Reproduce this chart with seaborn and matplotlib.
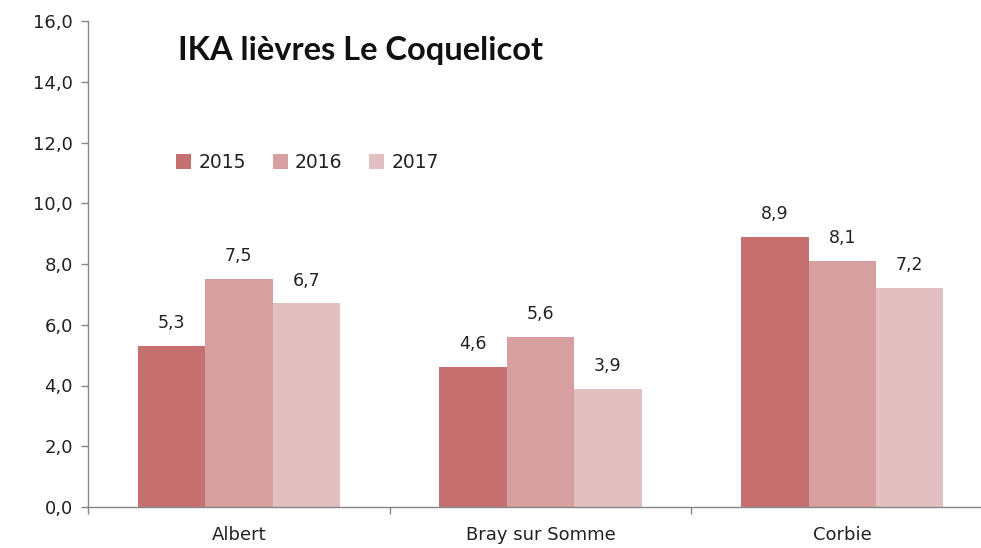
import seaborn as sns
import matplotlib.pyplot as plt
import pandas as pd
from matplotlib.ticker import FixedLocator, FuncFormatter

# data
communes = ["Albert", "Bray sur Somme", "Corbie"]
years = ["2015", "2016", "2017"]
ika_2015 = [5.3, 4.6, 8.9]
ika_2016 = [7.5, 5.6, 8.1]
ika_2017 = [6.7, 3.9, 7.2]

colors = ["#C6706F", "#D79F9F", "#E2C0C2"]

rows = []
for yr, vals in zip(years, [ika_2015, ika_2016, ika_2017]):
    for c, v in zip(communes, vals):
        rows.append({"commune": c, "annee": yr, "ika": v})
df = pd.DataFrame(rows)

sns.set_style("white")
plt.rcParams["font.family"] = ["DejaVu Sans"]

fig = plt.figure(figsize=(9.81, 5.48), dpi=100)
ax = fig.add_axes([88 / 981, 41 / 548, (981 - 88) / 981, 486 / 548])

sns.barplot(data=df, x="commune", y="ika", hue="annee", palette=colors,
            width=0.67, gap=0, saturation=1, linewidth=0, ax=ax, legend=True)

# value labels
for cont in ax.containers:
    ax.bar_label(cont, labels=[f"{v:.1f}".replace(".", ",") for v in cont.datavalues],
                 padding=10, fontsize=12.5, color="#222222")

ax.set_ylim(0, 16)
ax.set_xlim(-0.5, 2.46)
ax.set_yticks([0, 2, 4, 6, 8, 10, 12, 14, 16])
ax.yaxis.set_major_formatter(FuncFormatter(lambda v, p: f"{v:.1f}".replace(".", ",")))
ax.tick_params(axis="y", labelsize=13, length=5, width=1, color="#868686",
               direction="out", left=True, pad=6, labelcolor="#222222")
ax.tick_params(axis="x", which="major", length=0, labelsize=13, pad=14,
               labelcolor="#222222")
ax.xaxis.set_minor_locator(FixedLocator([-0.5, 0.5, 1.5]))
ax.tick_params(axis="x", which="minor", length=5, width=1, color="#868686",
               direction="out", bottom=True)
ax.set_xlabel("")
ax.set_ylabel("")

for s in ["top", "right"]:
    ax.spines[s].set_visible(False)
for s in ["left", "bottom"]:
    ax.spines[s].set_color("#868686")
    ax.spines[s].set_linewidth(1)

leg = ax.legend(loc="upper left", bbox_to_anchor=(0.08, 0.763), ncol=3,
                frameon=False, fontsize=13.5, handlelength=0.8, handleheight=0.8,
                handletextpad=0.4, columnspacing=1.4)
for t in leg.get_texts():
    t.set_color("#222222")

fig.text(178 / 981, 1 - 50 / 548, "IKA lièvres Le Coquelicot", fontsize=23.5,
         fontweight="bold", family=["Lato", "DejaVu Sans"], va="center", ha="left",
         color="#111111")

fig.savefig("out.png", dpi=100)
plt.close()
